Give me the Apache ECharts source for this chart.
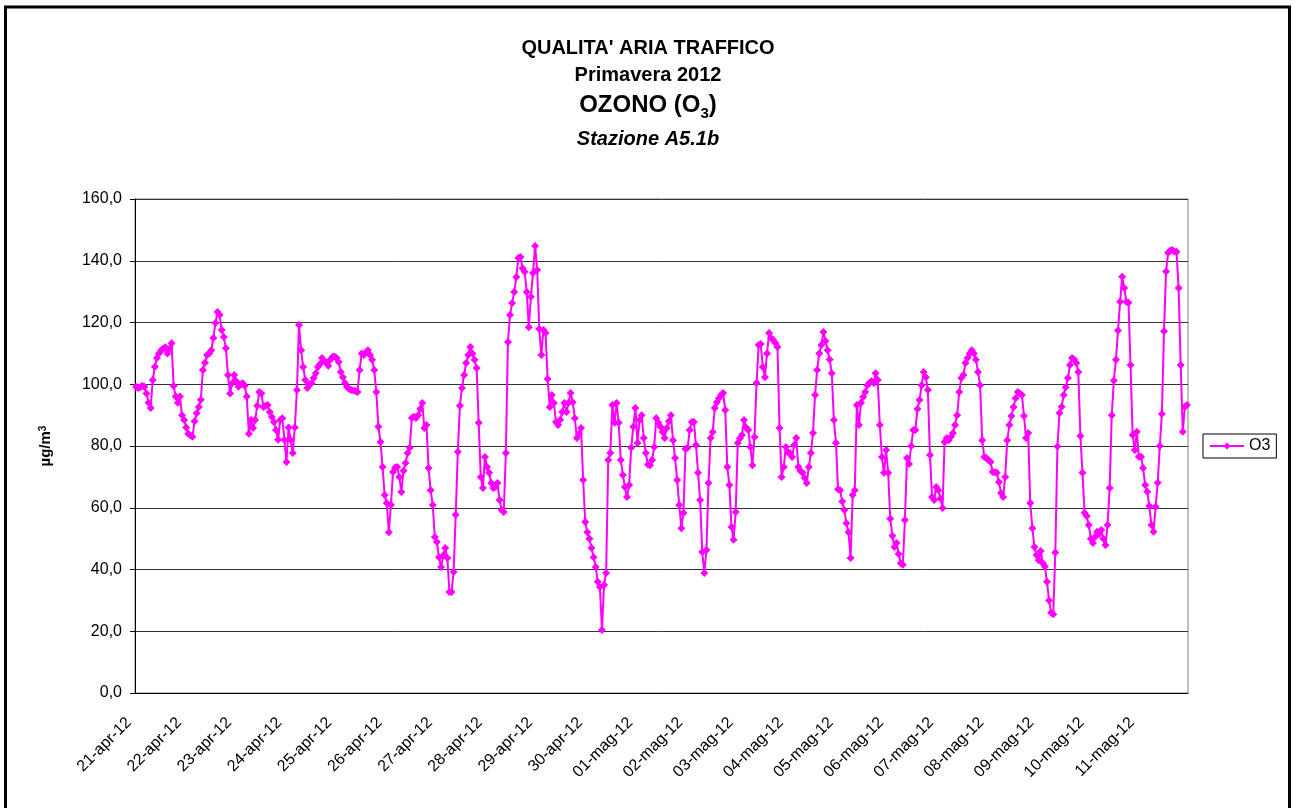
<!DOCTYPE html>
<html>
<head>
<meta charset="utf-8">
<script src="https://cdn.jsdelivr.net/npm/echarts@6/dist/echarts.min.js"></script>
<style>
  html, body { margin: 0; padding: 0; background: #fff; }
  #chart { width: 1296px; height: 808px; }
</style>
</head>
<body>
<div id="chart"></div>
<script>
// etichette dei giorni (asse x)
var dayLabels = ['21-apr-12', '22-apr-12', '23-apr-12', '24-apr-12', '25-apr-12', '26-apr-12', '27-apr-12',
  '28-apr-12', '29-apr-12', '30-apr-12', '01-mag-12', '02-mag-12', '03-mag-12', '04-mag-12', '05-mag-12',
  '06-mag-12', '07-mag-12', '08-mag-12', '09-mag-12', '10-mag-12', '11-mag-12'];

// O3 orario (µg/m3), 24 valori per giorno
var d21apr = [99.2, 98.8, 99, 99.5, 99.2, 97, 94, 92.3, 101.4, 105.7, 108.5, 110, 111, 111.5, 112, 110, 111.5, 113.3, 99.4, 96, 94, 96, 90, 88.4];
var d22apr = [86, 84, 83.5, 83, 88, 90.6, 92.6, 95, 104.6, 107, 109.5, 110, 111, 115, 119.8, 123.4, 122.4, 117.6, 115.3, 111.7, 103, 97, 100.3, 103];
var d23apr = [101, 99.2, 100, 100.3, 99.5, 96, 84, 88.4, 85.8, 88.4, 93, 97.5, 97, 92.6, 93, 93.3, 91, 89.4, 87.8, 85.2, 82, 88.4, 89, 82];
var d24apr = [74.8, 86, 82, 77.7, 86, 98.1, 119.2, 111, 105.6, 101.4, 98.8, 100, 100.3, 102, 103.6, 105.6, 106.5, 108.5, 107.5, 107, 106, 107.9, 108.8, 109];
var d25apr = [108.5, 107.2, 104, 102.3, 100.4, 99.1, 98.5, 98.1, 98, 97.8, 97.5, 104.6, 110, 109.5, 110.4, 111, 109.5, 107.9, 104.6, 97.5, 86.2, 81.3, 73.2, 64.1];
var d26apr = [61.5, 52.1, 60.9, 71.6, 73, 73.2, 70, 65.1, 72, 74.5, 77.7, 79.4, 89.1, 89.5, 89.1, 90, 92, 93.9, 85.8, 86.8, 72.9, 65.7, 60.9, 50.5];
var d27apr = [48.9, 44, 40.8, 44.5, 47, 43.7, 32.7, 32.7, 39.2, 57.7, 78.1, 93, 98.8, 103, 106.9, 109.5, 112.1, 110, 107.9, 105.3, 87.5, 70, 66.4, 76.4];
var d28apr = [73.2, 71.3, 68, 66.4, 66.7, 68, 62.5, 59.3, 58.6, 77.7, 113.7, 122.4, 126.3, 129.9, 134.7, 140.9, 141.2, 137.6, 136.4, 129.9, 118.5, 128.3, 136, 144.8];
var d29apr = [137, 117.9, 109.5, 117.6, 116.6, 101.7, 92.6, 96.5, 93.9, 87.8, 86.8, 88.5, 91, 93.9, 91, 94, 97.2, 94.2, 89, 82.6, 84, 85.8, 69, 55.4];
var d30apr = [52.1, 50, 47, 44, 40.8, 36, 34.3, 20.4, 35, 38.9, 75.5, 77.7, 93.3, 87.5, 93.9, 87.5, 75.5, 70.6, 66.7, 63.5, 67.4, 79.4, 86.2, 92.3];
var d01mag = [81, 88.4, 90, 82.6, 77.7, 74, 73.8, 75.5, 79.7, 89, 87.5, 86.2, 84.5, 82.6, 85.8, 88, 90, 81.9, 76.1, 69, 60.9, 53.4, 58.3, 79];
var d02mag = [79.4, 85.2, 87.8, 87.8, 80.3, 71.3, 62.5, 45.7, 38.9, 46.3, 68, 82.6, 84.5, 92.3, 94.2, 95.5, 96.5, 97.2, 91.7, 73.2, 67.4, 53.8, 49.6, 58.6];
var d03mag = [81, 82.5, 83.6, 88.4, 86, 85.2, 79.7, 73.8, 82.9, 100.4, 112.7, 113, 105.6, 102.3, 110, 116.6, 115, 114.3, 113.4, 112.1, 85.8, 70, 73.2, 79.7];
var d04mag = [78, 77.7, 76.4, 80.3, 82.6, 73.2, 72, 71.3, 69.6, 68, 73.2, 77.7, 84.2, 96.5, 104.6, 110, 112.7, 116.9, 114, 111, 108, 103.6, 88.4, 81];
var d05mag = [66, 65.7, 62, 59.3, 55, 52.1, 43.7, 64.1, 65.7, 93.3, 86.8, 94, 95.9, 97.5, 99.7, 100.4, 101, 100.4, 103.6, 101.4, 86.8, 76.4, 71.3, 78.7];
var d06mag = [71.3, 56.4, 50.9, 47.3, 48.6, 45, 42, 41.5, 56, 76.1, 74.2, 80, 85.2, 85.2, 92, 94.9, 99.7, 104, 102.3, 98.1, 77.1, 63.5, 62.5, 66.7];
var d07mag = [65.7, 63, 59.9, 81.3, 82.6, 81.9, 83, 84.2, 86.8, 90, 97.5, 102, 103, 106.9, 108.5, 110, 111, 110, 107.9, 104, 99.7, 81.9, 76.4, 76.1];
var d08mag = [75.5, 74.8, 71.6, 71.5, 71.3, 68.3, 64.8, 63.5, 70, 81.9, 86.8, 89.7, 92.6, 95.5, 97.5, 97, 96.5, 89.7, 82.6, 84.2, 61.5, 53.4, 47.3, 44.7];
var d09mag = [43, 46, 42, 41, 36, 30, 26, 25.5, 45.5, 79.8, 90.7, 92.7, 96.5, 99, 102, 106.2, 108.5, 108, 106.9, 104, 83.2, 71.3, 58.4, 57.3];
var d10mag = [54.4, 50, 48.6, 50.5, 52.2, 51.5, 52.8, 50, 47.9, 54.4, 66.4, 90, 101.2, 107.9, 117.4, 126.7, 134.8, 131.2, 126.7, 126.4, 106.2, 83.6, 78.7, 84.6];
var d11mag = [76.5, 76.5, 72.9, 67.4, 65.2, 60.6, 54.4, 52.2, 60.3, 68.1, 80, 90.4, 117.2, 136.5, 142.6, 143.3, 143.5, 143, 142.9, 131.2, 106.2, 84.6, 92.7, 93.3];

var days = [d21apr, d22apr, d23apr, d24apr, d25apr, d26apr, d27apr, d28apr, d29apr, d30apr, d01mag,
  d02mag, d03mag, d04mag, d05mag, d06mag, d07mag, d08mag, d09mag, d10mag, d11mag];

// costruisco categorie orarie e serie
var categories = [];
var o3 = [];
days.forEach(function (vals, d) {
  vals.forEach(function (v, h) {
    categories.push(dayLabels[d] + ' ' + (h < 10 ? '0' + h : h) + ':00');
    o3.push(v);
  });
});

var font = '"Liberation Sans", Arial, sans-serif';
var magenta = '#FF00FF';

var chart = echarts.init(document.getElementById('chart'));
chart.setOption({
  animation: false,
  backgroundColor: '#fff',
  textStyle: { fontFamily: font, color: '#000' },
  title: [
    {
      text: "QUALITA' ARIA TRAFFICO", left: 'center', top: 38, padding: 0,
      textStyle: { fontFamily: font, fontSize: 20, fontWeight: 'bold', color: '#000' }
    },
    {
      text: 'Primavera 2012', left: 'center', top: 65, padding: 0,
      textStyle: { fontFamily: font, fontSize: 20, fontWeight: 'bold', color: '#000' }
    },
    {
      text: '{b|OZONO (O}{s|3}{b|)}', left: 'center', top: 91, padding: 0,
      textStyle: {
        rich: {
          b: { fontFamily: font, fontSize: 24, fontWeight: 'bold', color: '#000', lineHeight: 28 },
          s: { fontFamily: font, fontSize: 15, fontWeight: 'bold', color: '#000', verticalAlign: 'bottom', lineHeight: 28, padding: [0, 0, -2, 0] }
        }
      }
    },
    {
      text: 'Stazione A5.1b', left: 'center', top: 129, padding: 0,
      textStyle: { fontFamily: font, fontSize: 20, fontWeight: 'bold', fontStyle: 'italic', color: '#000' }
    }
  ],
  graphic: [
    {
      // cornice esterna (il lato inferiore esce dall'immagine)
      type: 'rect', silent: true,
      shape: { x: 5.5, y: 7, width: 1284, height: 810 },
      style: { fill: 'transparent', stroke: '#000', lineWidth: 3 }
    }
  ],
  legend: {
    data: ['O3'],
    orient: 'vertical',
    left: 1203, top: 434,
    padding: [4, 6, 4, 6],
    borderColor: '#000', borderWidth: 1, borderRadius: 0,
    itemWidth: 34, itemHeight: 9,
    textStyle: { fontFamily: font, fontSize: 16, color: '#000' }
  },
  grid: {
    left: 135, right: 108, top: 199, bottom: 115,
    show: true, borderColor: '#808080', borderWidth: 1
  },
  xAxis: {
    type: 'category',
    data: categories,
    boundaryGap: true,
    axisLine: { lineStyle: { color: '#000', width: 1 } },
    axisTick: {
      interval: function (i) { return i % 12 === 0; },
      length: 5,
      lineStyle: { color: '#000' }
    },
    axisLabel: {
      interval: function (i) { return i % 24 === 0; },
      formatter: function (v, i) { return dayLabels[Math.floor(i / 24)]; },
      rotate: 45, margin: 20, padding: [0, 10, 0, 0],
      fontFamily: font, fontSize: 16, color: '#000'
    },
    splitLine: { show: false }
  },
  yAxis: {
    type: 'value',
    min: 0, max: 160, interval: 20,
    name: 'µg/m{sup|3}',
    nameLocation: 'middle', nameGap: 82, nameRotate: 90,
    nameTextStyle: {
      fontFamily: font, fontSize: 15, fontWeight: 'bold', color: '#000',
      rich: { sup: { fontFamily: font, fontSize: 10, fontWeight: 'bold', color: '#000', verticalAlign: 'top' } }
    },
    axisLine: { show: true, lineStyle: { color: '#000', width: 1 } },
    axisTick: { show: true, length: 5, lineStyle: { color: '#000' } },
    axisLabel: {
      formatter: function (v) { return v.toFixed(1).replace('.', ','); },
      margin: 13, fontFamily: font, fontSize: 16, color: '#000'
    },
    splitLine: { lineStyle: { color: '#333', width: 1 } }
  },
  series: [
    {
      name: 'O3',
      type: 'line',
      data: o3,
      symbol: 'diamond',
      symbolSize: 8,
      showSymbol: true,
      showAllSymbol: true,
      itemStyle: { color: magenta },
      lineStyle: { color: magenta, width: 2 }
    }
  ]
});
</script>
</body>
</html>
